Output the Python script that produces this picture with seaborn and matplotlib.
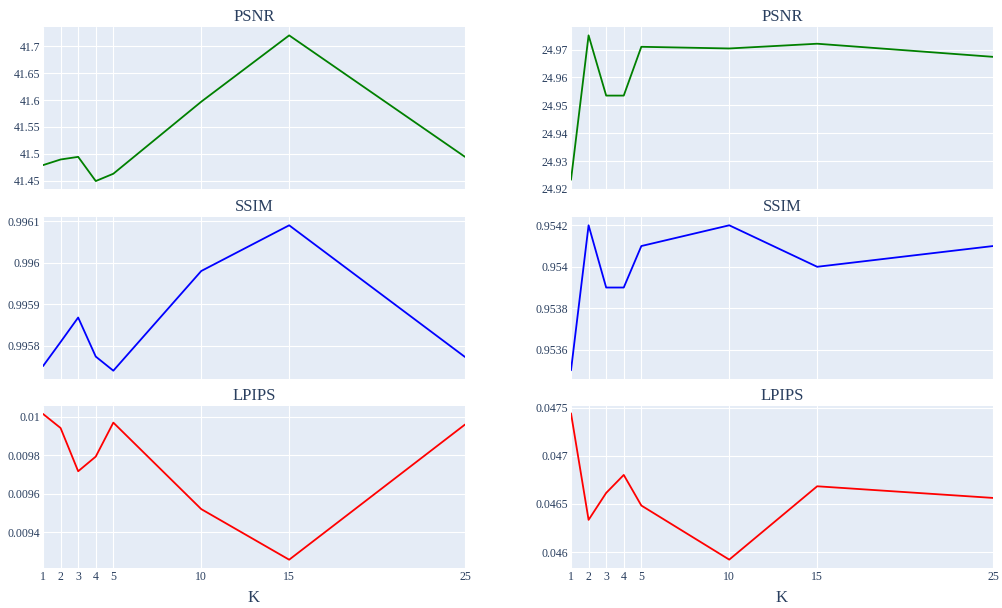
import pandas as pd
import seaborn as sns
import matplotlib.pyplot as plt
from matplotlib.ticker import FuncFormatter

# valores de K
k_values = [1, 2, 3, 4, 5, 10, 15, 25]

# columna izquierda
psnr_izq = [41.479, 41.4895, 41.4944, 41.4494, 41.463, 41.597, 41.7204, 41.4944]
ssim_izq = [0.995751, 0.995809, 0.995868, 0.995774, 0.995740, 0.995980, 0.996090, 0.995773]
lpips_izq = [0.010014, 0.009941, 0.009717, 0.009793, 0.009969, 0.009521, 0.009259, 0.009959]

# columna derecha
psnr_der = [24.9233, 24.9751, 24.9535, 24.9535, 24.9710, 24.9704, 24.9721, 24.9674]
ssim_der = [0.953501, 0.9542, 0.9539, 0.9539, 0.9541, 0.9542, 0.9540, 0.9541]
lpips_der = [0.047441, 0.046334, 0.046614, 0.046801, 0.046483, 0.045921, 0.046683, 0.046562]

metricas = ['PSNR', 'SSIM', 'LPIPS']
colores = ['green', 'blue', 'red']

# rangos y ticks del eje y
rangos = [[(41.4346, 41.736), (24.92, 24.9781)],
          [(0.99572, 0.99611), (0.953459, 0.95424)],
          [(0.009216, 0.010055), (0.045834, 0.047517)]]
yticks = [[[41.45, 41.5, 41.55, 41.6, 41.65, 41.7], [24.92, 24.93, 24.94, 24.95, 24.96, 24.97]],
          [[0.9958, 0.9959, 0.996, 0.9961], [0.9536, 0.9538, 0.954, 0.9542]],
          [[0.0094, 0.0096, 0.0098, 0.01], [0.046, 0.0465, 0.047, 0.0475]]]

df_izq = pd.DataFrame({'K': k_values, 'PSNR': psnr_izq, 'SSIM': ssim_izq, 'LPIPS': lpips_izq})
df_der = pd.DataFrame({'K': k_values, 'PSNR': psnr_der, 'SSIM': ssim_der, 'LPIPS': lpips_der})

sns.set_theme(style='darkgrid', rc={'axes.facecolor': '#E5ECF6', 'grid.color': 'white',
                                    'grid.linewidth': 0.8, 'figure.facecolor': 'white'})
plt.rcParams['font.family'] = ['Liberation Serif', 'DejaVu Serif']
texto = '#2a3f5f'

fig = plt.figure(figsize=(10.03, 6.08), dpi=100)
x_cols = [43 / 1003, 571 / 1003]
ancho = 422 / 1003
alto = 162 / 608
y_filas = [1 - 189 / 608, 1 - 379 / 608, 1 - 568 / 608]

fmt = FuncFormatter(lambda v, p: f'{v:.6g}')

for col, df in enumerate([df_izq, df_der]):
    for fila, m in enumerate(metricas):
        ax = fig.add_axes([x_cols[col], y_filas[fila], ancho, alto])
        sns.lineplot(data=df, x='K', y=m, color=colores[fila], linewidth=1.3, ax=ax)
        ax.set_xlim(1, 25)
        ax.set_ylim(*rangos[fila][col])
        ax.set_xticks(k_values)
        ax.set_yticks(yticks[fila][col])
        ax.yaxis.set_major_formatter(fmt)
        ax.tick_params(length=0, pad=2, labelsize=8.5, labelcolor=texto)
        ax.set_title(m, fontsize=12, color=texto, pad=4)
        ax.set_ylabel('')
        for s in ax.spines.values():
            s.set_visible(False)
        if fila == 2:
            ax.set_xlabel('K', fontsize=12, color=texto, labelpad=5)
        else:
            ax.set_xlabel('')
            ax.set_xticklabels([])

plt.savefig('out.png', dpi=100)
